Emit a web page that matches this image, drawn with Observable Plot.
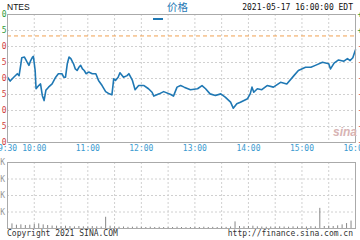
<!DOCTYPE html>
<html><head><meta charset="utf-8">
<script src="https://cdn.jsdelivr.net/npm/d3@7"></script>
<script src="https://cdn.jsdelivr.net/npm/@observablehq/plot@0.6"></script>
<style>
html,body{margin:0;padding:0;background:#fff;}
#c{position:relative;width:360px;height:240px;overflow:hidden;font-family:"DejaVu Sans Mono",monospace;}
.abs{position:absolute;white-space:nowrap;line-height:1;}
</style></head><body><div id="c"></div>
<script>
// ---- data ----
const symbol = "NTES";
const stamp = "2021-05-17 16:00:00 EDT";
const times = ["09:30","09:33","09:37","09:41","09:43","09:45","09:46","09:49","09:52","09:54","09:56","09:58","09:59","10:01","10:02","10:05","10:07","10:09","10:11","10:13","10:16","10:20","10:24","10:27","10:31","10:33","10:35","10:37","10:39","10:41","10:43","10:44","10:46","10:48","10:50","10:52","10:54","10:56","10:58","11:01","11:05","11:09","11:12","11:16","11:20","11:24","11:27","11:28","11:29","11:31","11:34","11:36","11:40","11:44","11:46","11:50","11:53","11:57","12:03","12:08","12:12","12:14","12:20","12:25","12:33","12:36","12:40","12:44","12:48","12:55","13:03","13:08","13:12","13:17","13:23","13:29","13:34","13:40","13:43","13:47","13:51","13:59","14:02","14:04","14:06","14:10","14:15","14:21","14:28","14:36","14:43","14:51","14:56","15:04","15:10","15:15","15:23","15:30","15:32","15:36","15:41","15:47","15:51","15:54","15:57","16:00"];
const prices = [112.04,111.92,112.04,112.15,112.09,112.46,112.65,112.67,112.51,112.41,112.56,112.67,112.69,112.25,111.68,111.78,111.83,111.47,111.31,111.63,111.73,111.83,112.04,112.15,112.15,112.04,112.04,112.46,112.67,112.62,112.51,112.46,112.30,112.25,112.35,112.41,112.30,112.25,112.15,112.20,112.15,112.15,111.94,111.78,111.59,111.52,111.49,111.73,111.99,111.94,112.04,112.18,112.04,112.09,112.15,111.94,111.65,111.78,111.78,111.68,111.57,111.45,111.52,111.59,111.50,111.45,111.73,111.78,111.73,111.65,111.68,111.78,111.68,111.52,111.47,111.52,111.42,111.26,111.07,111.21,111.26,111.37,111.52,111.73,111.57,111.68,111.65,111.78,111.73,111.88,111.83,112.09,112.25,112.35,112.35,112.41,112.51,112.46,112.30,112.48,112.58,112.54,112.62,112.56,112.65,112.90];
const prevClose = 113.33;
const yTicks = [110.0,110.5,111.0,111.5,112.0,112.5,113.0,113.5,114.0];
const gridTimes = ["09:30","10:00","10:30","11:00","11:30","12:00","12:30","13:00","13:30","14:00","14:30","15:00","15:30","16:00"];
const labelTimes = ["09:30","10:00","11:00","12:00","13:00","14:00","15:00","16:00"];
const volTimes = ["09:30","09:35","09:40","09:45","09:50","09:55","10:00","10:05","10:10","10:15","10:20","10:25","10:30","10:35","10:40","10:45","10:50","10:55","11:00","11:05","11:10","11:15","11:20","11:25","11:30","11:35","11:40","11:45","11:50","11:55","12:00","12:05","12:10","12:15","12:20","12:25","12:30","12:35","12:40","12:45","12:50","12:55","13:00","13:05","13:10","13:15","13:20","13:25","13:30","13:35","13:40","13:45","13:50","13:55","14:00","14:05","14:10","14:15","14:20","14:25","14:30","14:35","14:40","14:45","14:50","14:55","15:00","15:05","15:10","15:15","15:20","15:25","15:30","15:35","15:40","15:45","15:50","15:55"];
const volumes = [55,28,20,22,18,20,25,28,22,18,15,14,12,14,12,10,12,10,9,12,10,9,68,14,10,8,9,7,8,9,7,6,8,6,7,6,5,6,8,6,5,6,7,6,8,6,7,6,8,7,9,40,12,10,12,14,10,9,8,9,8,10,9,8,10,9,10,9,11,10,122,12,14,12,16,22,30,45];
const volTicks = [100,200,300,400];
const legendLabel = "价格";
const copyright = "Copyright 2021 SINA.COM";
const url = "http://finance.sina.com.cn";

// ---- build ----
const parse = s => new Date(2021, 4, 17, +s.slice(0,2), +s.slice(3,5));
const priceData = times.map((t,i) => ({t: parse(t), p: prices[i]}));
const volData = volTimes.map((t,i) => ({t: parse(t), v: volumes[i]}));
const x0 = parse(gridTimes[0]), x1 = parse(gridTimes[gridTimes.length-1]);
const GREEN = "#2f9a3a", RED = "#d04040", BLUE = "#1f78b4", GRID = "#d0d0d0";
const mono = "'DejaVu Sans Mono', monospace";
const pct = v => { const r = (v - prevClose) / prevClose * 100; return (r >= 0 ? "+" : "-") + Math.abs(r).toFixed(2) + "%"; };

const main = Plot.plot({
  width: 360, height: 160, marginTop: 14, marginBottom: 18, marginLeft: 7, marginRight: 5,
  style: {background: "transparent", overflow: "visible", fontFamily: mono, fontSize: "8px"},
  x: {type: "time", domain: [x0, x1], axis: null},
  y: {domain: [yTicks[0], yTicks[yTicks.length-1]], axis: null},
  marks: [
    Plot.ruleY(yTicks.slice(1, -1), {stroke: GRID, strokeDasharray: "2,2"}),
    Plot.ruleX(gridTimes.slice(1, -1).map(parse), {stroke: GRID, strokeDasharray: "2,2"}),
    Plot.ruleY([prevClose], {stroke: "#f0a050", strokeDasharray: "4,3"}),
    Plot.line(priceData, {x: "t", y: "p", stroke: BLUE, strokeWidth: 1.6}),
    Plot.frame({stroke: "#aaa"}),
    Plot.text(yTicks.filter(v => v > prevClose), {frameAnchor: "left", y: d => d, text: d => d.toFixed(1), textAnchor: "end", dx: -1, fill: GREEN}),
    Plot.text(yTicks.filter(v => v <= prevClose), {frameAnchor: "left", y: d => d, text: d => d.toFixed(1), textAnchor: "end", dx: -1, fill: RED}),
    Plot.text(yTicks.filter(v => v > prevClose), {frameAnchor: "right", y: d => d, text: pct, textAnchor: "start", dx: 2, fill: GREEN}),
    Plot.text(yTicks.filter(v => v <= prevClose), {frameAnchor: "right", y: d => d, text: pct, textAnchor: "start", dx: 2, fill: RED}),
    Plot.text(labelTimes, {x: d => parse(d), frameAnchor: "bottom", dy: 8, text: d => d.replace(/^0/, ""), fill: "#3a9ad0"})
  ]
});

const vol = Plot.plot({
  width: 360, height: 80, marginTop: 7, marginBottom: 7, marginLeft: 7, marginRight: 5,
  style: {background: "transparent", overflow: "visible", fontFamily: mono, fontSize: "8px"},
  x: {type: "time", domain: [x0, x1], axis: null},
  y: {domain: [0, volTicks[volTicks.length-1]], axis: null},
  marks: [
    Plot.ruleY(volTicks.slice(0, -1), {stroke: GRID, strokeDasharray: "2,2"}),
    Plot.ruleX(gridTimes.slice(1, -1).map(parse), {stroke: GRID, strokeDasharray: "2,2"}),
    Plot.ruleX(volData, {x: "t", y1: 0, y2: "v", stroke: "#888"}),
    Plot.frame({stroke: "#aaa"}),
    Plot.text(volTicks, {frameAnchor: "left", y: d => d, text: d => d + "K", textAnchor: "end", dx: -2.5, fill: "#999"})
  ]
});

const c = document.getElementById("c");
function place(el, css) { const d = document.createElement("div"); d.className = "abs"; Object.assign(d.style, css); d.append(el); c.append(d); return d; }
place(main, {left: "0px", top: "0px"});
place(vol, {left: "0px", top: "155px"});
function label(text, css) { const s = document.createElement("span"); s.textContent = text; return place(s, css); }
label(symbol, {left: "7px", top: "3px", fontFamily: "'Liberation Sans', Arial, sans-serif", fontSize: "8.5px", color: "#111"});
const leg = document.createElement("span"); leg.style.cssText = "display:inline-block;width:10px;height:2px;background:" + BLUE;
place(leg, {left: "153px", top: "7px"});
label(legendLabel, {left: "167px", top: "2px", fontFamily: "'Noto Sans CJK SC', sans-serif", fontSize: "10.5px", color: BLUE});
label(stamp, {right: "7px", top: "4px", fontFamily: mono, fontSize: "8px", color: "#111"});
label(copyright, {left: "7px", top: "230px", fontFamily: mono, fontSize: "8px", color: "#333"});
label(url, {right: "7px", top: "230px", fontFamily: mono, fontSize: "8px", color: "#333"});
label("sina", {left: "333px", top: "126px", fontFamily: "'Liberation Sans', Arial, sans-serif", fontStyle: "italic", fontWeight: "bold", fontSize: "12px", color: "#d8b4b4"});
</script></body></html>
